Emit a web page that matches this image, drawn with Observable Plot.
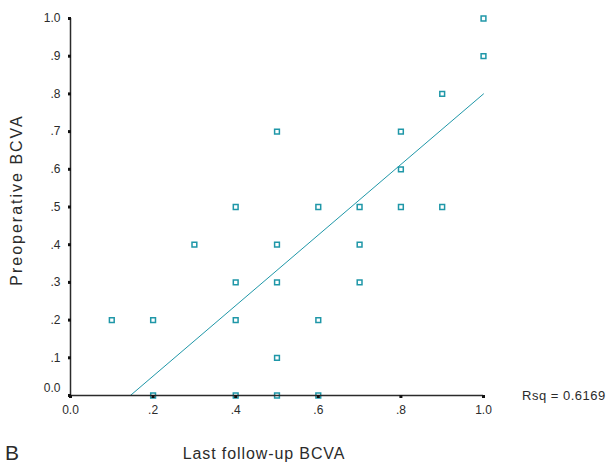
<!DOCTYPE html>
<html>
<head>
<meta charset="utf-8">
<script src="https://cdn.jsdelivr.net/npm/d3@7"></script>
<script src="https://cdn.jsdelivr.net/npm/@observablehq/plot@0.6"></script>
<style>
  html, body { margin: 0; padding: 0; background: #fff; }
  svg { display: block; }
</style>
</head>
<body>
<div id="chart"></div>
<script>
// Data (Last follow-up BCVA vs Preoperative BCVA)
const followUp = [0.1, 0.2, 0.2, 0.3, 0.4, 0.4, 0.4, 0.4, 0.5, 0.5, 0.5, 0.5, 0.5,
                  0.6, 0.6, 0.6, 0.7, 0.7, 0.7, 0.8, 0.8, 0.8, 0.9, 0.9, 1.0, 1.0];
const preop    = [0.2, 0.2, 0.0, 0.4, 0.5, 0.3, 0.2, 0.0, 0.7, 0.4, 0.3, 0.1, 0.0,
                  0.5, 0.2, 0.0, 0.5, 0.4, 0.3, 0.7, 0.6, 0.5, 0.8, 0.5, 1.0, 0.9];
// Fit line endpoints as drawn
const fitX = [0.145, 1.0];
const fitY = [0.0, 0.8];
const xTicks = [0, 0.2, 0.4, 0.6, 0.8, 1.0];
const yTicks = [0, 0.1, 0.2, 0.3, 0.4, 0.5, 0.6, 0.7, 0.8, 0.9, 1.0];
const rsqLabel = "Rsq = 0.6169";
const xTitle = "Last follow-up BCVA";
const yTitle = "Preoperative BCVA";
const panelLabel = "B";

const points = followUp.map((x, i) => ({x, y: preop[i]}));
const fit = fitX.map((x, i) => ({x, y: fitY[i]}));
const fmt = d => (d === 0 ? "0.0" : d === 1 ? "1.0" : d3.format(".1f")(d).replace(/^0/, ""));

const W = 610, H = 465;
const ml = 70, mr = 127, mt = 18, mb = 70;
const ink = "#2b2b2b";
const teal = "#1f97a8";

const plot = Plot.plot({
  width: W, height: H,
  marginLeft: ml, marginRight: mr, marginTop: mt, marginBottom: mb,
  style: {fontFamily: "Liberation Sans, Arial, sans-serif", background: "#fff", overflow: "visible"},
  x: {domain: [0, 1]},
  y: {domain: [0, 1]},
  marks: [
    Plot.axisY(yTicks.filter(d => d !== 0), {tickSize: 0, tickPadding: 10, tickFormat: fmt, fontSize: 12, fill: ink, label: null}),
    Plot.axisX(xTicks, {tickSize: 0, tickPadding: 10, tickFormat: fmt, fontSize: 12, fill: ink, label: null}),
    Plot.text([0], {x: 0, y: 0, text: d => fmt(d), textAnchor: "end", dx: -10, dy: -7, fontSize: 12, fill: ink}),
    Plot.line(fit, {x: "x", y: "y", stroke: teal, strokeWidth: 1}),
    Plot.dot(points, {x: "x", y: "y", symbol: "square", r: 2.7, stroke: teal, strokeWidth: 1.5, fill: "none"}),
    Plot.ruleX([0], {y1: 0, y2: 1, stroke: ink, strokeWidth: 1.5}),
    Plot.ruleY([0], {x1: 0, x2: 1, stroke: ink, strokeWidth: 1.5}),
    Plot.dot(yTicks, {x: 0, y: d => d, symbol: "square", r: 1.7, fill: "#111", dx: -1}),
    Plot.dot(xTicks, {x: d => d, y: 0, symbol: "square", r: 1.7, fill: "#111", dy: 1})
  ]
});

const svg = d3.select(plot);
svg.append("text")
  .attr("x", 522).attr("y", 400)
  .attr("text-anchor", "start")
  .attr("font-family", "Liberation Sans, Arial, sans-serif")
  .attr("font-size", 13).attr("letter-spacing", 0.5)
  .attr("fill", ink)
  .text(rsqLabel);
svg.append("text")
  .attr("x", 264).attr("y", 459)
  .attr("text-anchor", "middle")
  .attr("font-family", "Liberation Sans, Arial, sans-serif")
  .attr("font-size", 16).attr("letter-spacing", 0.9)
  .attr("fill", ink)
  .text(xTitle);
svg.append("text")
  .attr("transform", "translate(22,200) rotate(-90)")
  .attr("text-anchor", "middle")
  .attr("font-family", "Liberation Sans, Arial, sans-serif")
  .attr("font-size", 16).attr("letter-spacing", 2)
  .attr("fill", ink)
  .text(yTitle);
svg.append("text")
  .attr("x", 5).attr("y", 460)
  .attr("text-anchor", "start")
  .attr("font-family", "Liberation Sans, Arial, sans-serif")
  .attr("font-size", 21)
  .attr("fill", ink)
  .text(panelLabel);

document.getElementById("chart").appendChild(plot);
</script>
</body>
</html>
